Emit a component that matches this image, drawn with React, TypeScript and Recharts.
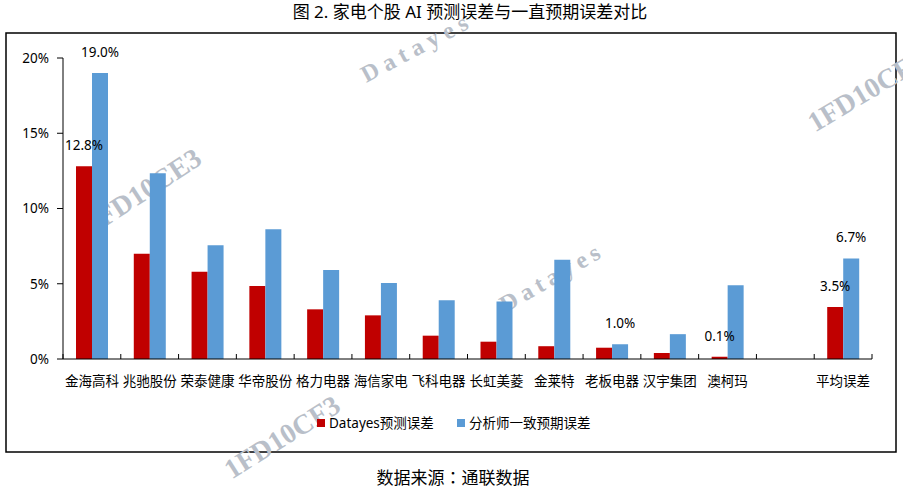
import React from 'react';
import { BarChart, Bar, XAxis, YAxis, LabelList } from 'recharts';

const categories = ['金海高科', '兆驰股份', '荣泰健康', '华帝股份', '格力电器', '海信家电', '飞科电器', '长虹美菱', '金莱特', '老板电器', '汉宇集团', '澳柯玛', '', '平均误差'];
const datayesError = [12.8, 7.0, 5.8, 4.85, 3.3, 2.9, 1.55, 1.15, 0.85, 0.75, 0.4, 0.15, null, 3.45];
const analystError = [19.0, 12.35, 7.55, 8.62, 5.92, 5.05, 3.9, 3.82, 6.6, 0.98, 1.65, 4.9, null, 6.68];
const datayesLabels = ['12.8%', '', '', '', '', '', '', '', '', '', '', '0.1%', '', '3.5%'];
const analystLabels = ['19.0%', '', '', '', '', '', '', '', '', '1.0%', '', '', '', '6.7%'];
const yTicks = [0, 5, 10, 15, 20];

const seriesNames = ['Datayes预测误差', '分析师一致预期误差'];
const colors = ['#C00000', '#5B9BD5'];
const title = '图 2. 家电个股 AI 预测误差与一直预期误差对比';
const sourceParts = ['数据来源', '：', '通联数据'];

const data = categories.map((name, i) => ({
  name,
  datayes: datayesError[i],
  analyst: analystError[i],
  datayesLabel: datayesLabels[i],
  analystLabel: analystLabels[i],
}));

const FONT = '"Noto Sans", "Noto Sans CJK SC", sans-serif';
const CJK_FONT = '"Noto Sans CJK SC", "Noto Sans", sans-serif';
const CJK_JP = '"Noto Sans CJK JP", "Noto Sans CJK SC", sans-serif';
const CHART_W = 903;
const CHART_H = 488;
const MARGIN = { top: 58, right: 31, bottom: 99, left: 8 };
const Y_W = 55;
const PLOT_W = CHART_W - MARGIN.left - Y_W - MARGIN.right;
const BAND = PLOT_W / categories.length;

const XTick = (props: any) => {
  const { x, y, payload, index } = props;
  const last = index === categories.length - 1;
  return (
    <g>
      <line x1={x - BAND / 2} x2={x - BAND / 2} y1={y} y2={y - 5} stroke="#000" strokeWidth={1} />
      {last && <line x1={x + BAND / 2} x2={x + BAND / 2} y1={y} y2={y - 5} stroke="#000" strokeWidth={1} />}
      <text x={x} y={y + 27} textAnchor="middle" fontSize={13.5} fill="#000">
        {payload.value}
      </text>
    </g>
  );
};

const watermarks = [
  { text: 'Datayes', x: 417, y: 47, angle: -28, size: 24, spacing: 6 },
  { text: 'Datayes', x: 552, y: 277, angle: -30, size: 24, spacing: 5 },
  { text: '1FD10CE3', x: 143, y: 191, angle: -33, size: 28, spacing: 0 },
  { text: '1FD10CF3', x: 866, y: 91, angle: -31, size: 28, spacing: 0 },
  { text: '1FD10CF3', x: 282, y: 437, angle: -32, size: 28, spacing: 0 },
];

export default function App() {
  return (
    <div style={{ position: 'absolute', left: 0, top: 0, width: CHART_W, height: CHART_H, background: '#fff', fontFamily: FONT }}>
      <svg width={CHART_W} height={CHART_H} style={{ position: 'absolute', left: 0, top: 0 }}>
        <text x={470} y={11} textAnchor="middle" dominantBaseline="central" fontSize={17} fill="#000">{title}</text>
        <rect x={6} y={33} width={890} height={419} fill="none" stroke="#000" strokeWidth={1.5} />
        {watermarks.map((w, i) => (
          <text
            key={i}
            x={w.x}
            y={w.y}
            textAnchor="middle"
            dominantBaseline="central"
            fontFamily='"Liberation Serif", "DejaVu Serif", serif'
            fontWeight="bold"
            fontSize={w.size}
            letterSpacing={w.spacing}
            fill="#b9bfc9"
            transform={`rotate(${w.angle} ${w.x} ${w.y})`}
          >
            {w.text}
          </text>
        ))}
        <text x={453} y={476} textAnchor="middle" dominantBaseline="central" fontSize={17} fill="#000" fontFamily={CJK_FONT}>
          <tspan>{sourceParts[0]}</tspan>
          <tspan fontFamily={CJK_JP}>{sourceParts[1]}</tspan>
          <tspan>{sourceParts[2]}</tspan>
        </text>
        <rect x={317} y={419} width={8} height={8} fill={colors[0]} />
        <text x={329} y={423} dominantBaseline="central" fontSize={13.5} fill="#000">{seriesNames[0]}</text>
        <rect x={457} y={419} width={8} height={8} fill={colors[1]} />
        <text x={469} y={423} dominantBaseline="central" fontSize={13.5} fill="#000">{seriesNames[1]}</text>
      </svg>
      <div style={{ position: 'absolute', left: 0, top: 0 }}>
        <BarChart width={CHART_W} height={CHART_H} data={data} margin={MARGIN} barGap={0}>
          <XAxis
            dataKey="name"
            interval={0}
            tickSize={0}
            tickMargin={0}
            tickLine={false}
            tick={<XTick />}
            axisLine={{ stroke: '#000', strokeWidth: 1 }}
            height={30}
          />
          <YAxis
            domain={[0, 20]}
            ticks={yTicks}
            tickFormatter={(v: number) => `${v}%`}
            tickSize={6}
            tickMargin={8}
            width={Y_W}
            axisLine={{ stroke: '#000', strokeWidth: 1 }}
            tickLine={{ stroke: '#000', strokeWidth: 1 }}
            tick={{ fill: '#000', fontSize: 13.5 }}
          />
          <Bar dataKey="datayes" name={seriesNames[0]} fill={colors[0]} barSize={16} isAnimationActive={false}>
            <LabelList dataKey="datayesLabel" position="top" offset={16} fill="#000" fontSize={13.5} />
          </Bar>
          <Bar dataKey="analyst" name={seriesNames[1]} fill={colors[1]} barSize={16} isAnimationActive={false}>
            <LabelList dataKey="analystLabel" position="top" offset={16} fill="#000" fontSize={13.5} />
          </Bar>
        </BarChart>
      </div>
    </div>
  );
}
